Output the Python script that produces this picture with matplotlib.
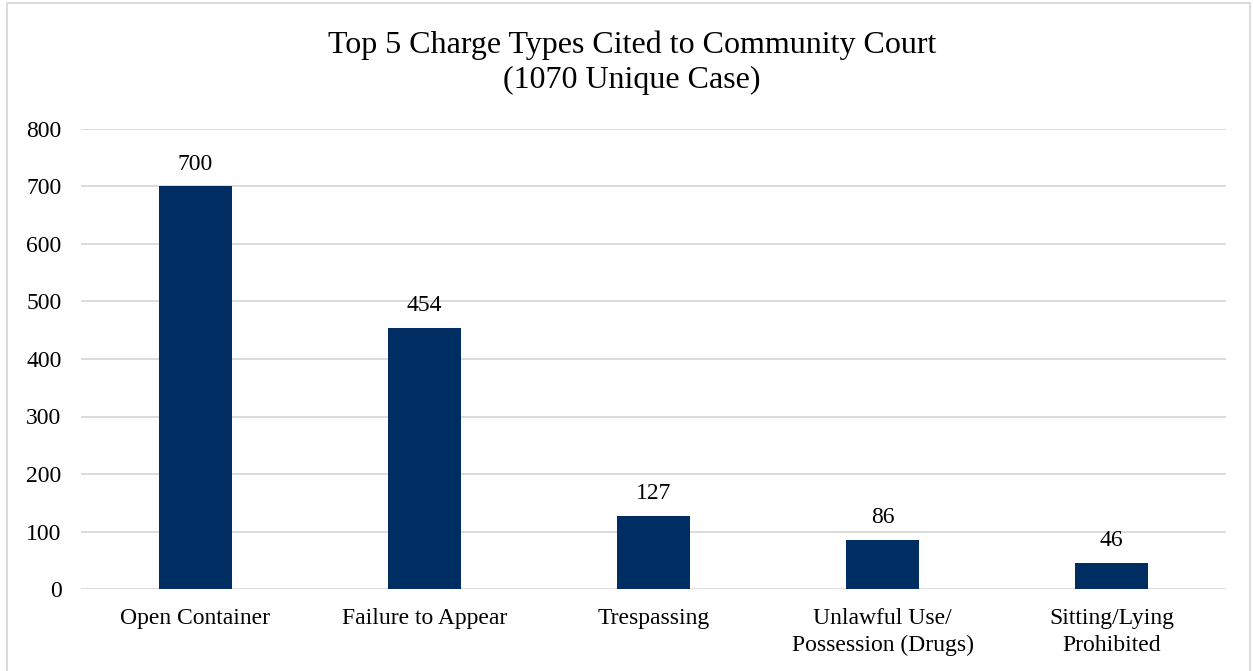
import matplotlib
matplotlib.use("Agg")
import matplotlib.pyplot as plt
from matplotlib.patches import Rectangle

categories = ["Open Container", "Failure to Appear", "Trespassing",
              "Unlawful Use/\nPossession (Drugs)", "Sitting/Lying\nProhibited"]
values = [700, 454, 127, 86, 46]
yticks = [0, 100, 200, 300, 400, 500, 600, 700, 800]

plt.rcParams['font.family'] = ['Liberation Serif', 'DejaVu Serif']

W, H = 1253, 671
fig = plt.figure(figsize=(W/100, H/100), dpi=100)
ax = fig.add_axes([81/W, 1-589/H, (1226-81)/W, (589-129)/H])

x = list(range(len(categories)))
ax.bar(x, values, width=0.315, color="#002D62", zorder=3)
for xi, v in zip(x, values):
    ax.text(xi, v + 20, str(v), ha="center", va="bottom", fontsize=17, color="#000000")

ax.set_xlim(-0.5, len(categories) - 0.5)
ax.set_ylim(0, 800)
ax.set_yticks(yticks)
ax.set_yticklabels([str(t) for t in yticks], fontsize=17)
ax.set_xticks(x)
ax.set_xticklabels(categories, fontsize=17, linespacing=1.35)
ax.tick_params(axis="both", length=0)
ax.tick_params(axis="x", pad=14)
ax.tick_params(axis="y", pad=14)
ax.grid(axis="y", color="#D9D9D9", linewidth=1.3, zorder=0)
for s in ax.spines.values():
    s.set_visible(False)

fig.text(632/W, 1-45/H, "Top 5 Charge Types Cited to Community Court",
         ha="center", va="center", fontsize=23)
fig.text(632/W, 1-80/H, "(1070 Unique Case)",
         ha="center", va="center", fontsize=23)

fig.patches.append(Rectangle((6.5/W, -0.01), (1250-6.5)/W, 1 - 2.5/H + 0.01,
                             transform=fig.transFigure, fill=False,
                             edgecolor="#D9D9D9", linewidth=1.3))

fig.savefig("out.png", dpi=100)
